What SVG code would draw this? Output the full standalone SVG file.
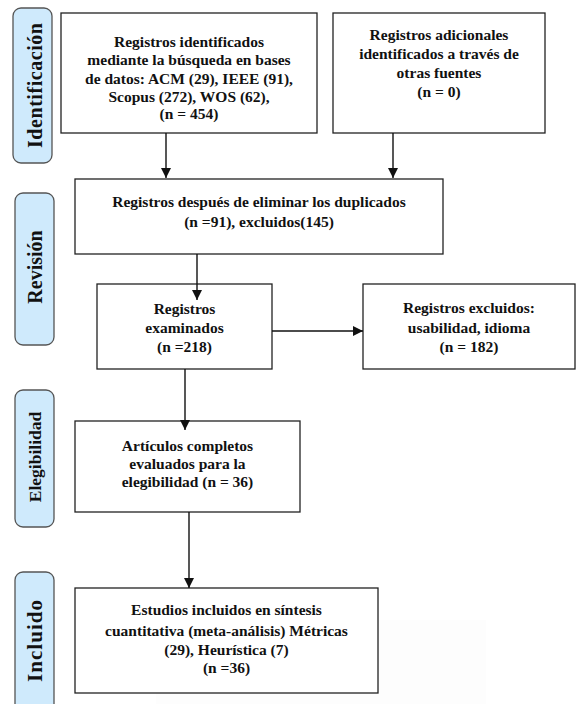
<svg xmlns="http://www.w3.org/2000/svg" width="577" height="704" viewBox="0 0 577 704">
<style>
.box{fill:#fff;stroke:#222;stroke-width:1.3}
.lbl{fill:#cfeafc;stroke:#555;stroke-width:1.3}
.t{font-family:"Liberation Serif","Times New Roman",serif;font-weight:bold;font-size:15.5px;fill:#111;text-anchor:middle}
.s{font-family:"Liberation Serif","Times New Roman",serif;font-weight:bold;font-size:20px;fill:#111;text-anchor:middle}
.c{stroke:#111;stroke-width:1.4;fill:none;marker-end:url(#ah)}
</style>
<defs>
<marker id="ah" markerUnits="userSpaceOnUse" markerWidth="12" markerHeight="12" viewBox="0 0 12 12" refX="10" refY="5" orient="auto">
<path d="M0,0 L10,5 L0,10 Z" fill="#111"/>
</marker>
</defs>
<rect x="156" y="620" width="330" height="84" fill="#fdfdfd"/>
<g id="phase-identificacion">
<rect class="lbl" x="13" y="8" width="39" height="155" rx="8"/>
<text class="s" transform="translate(42,85.5) rotate(-90)" textLength="125" lengthAdjust="spacing">Identificación</text>
</g>
<g id="phase-revision">
<rect class="lbl" x="15" y="193" width="39" height="152" rx="8"/>
<text class="s" transform="translate(42,267) rotate(-90)">Revisión</text>
</g>
<g id="phase-elegibilidad">
<rect class="lbl" x="15" y="390" width="39" height="137" rx="8"/>
<text class="s" style="font-size:17.5px" transform="translate(40.5,457) rotate(-90)">Elegibilidad</text>
</g>
<g id="phase-incluido">
<rect class="lbl" x="15" y="572" width="39" height="142" rx="8"/>
<text class="s" style="font-size:21px" transform="translate(42,641) rotate(-90)" textLength="82" lengthAdjust="spacing">Incluido</text>
</g>
<g id="n-identificados">
<rect class="box" x="61" y="13" width="256" height="120"/>
<text class="t" x="189" y="47">Registros identificados</text>
<text class="t" x="189" y="65">mediante la búsqueda en bases</text>
<text class="t" x="189" y="84">de datos: ACM (29), IEEE (91),</text>
<text class="t" x="189" y="102">Scopus (272), WOS (62),</text>
<text class="t" x="189" y="119">(n = 454)</text>
</g>
<g id="n-adicionales">
<rect class="box" x="333" y="13" width="212" height="120"/>
<text class="t" x="439" y="40">Registros adicionales</text>
<text class="t" x="439" y="59">identificados a través de</text>
<text class="t" x="439" y="78">otras fuentes</text>
<text class="t" x="439" y="97">(n = 0)</text>
</g>
<g id="n-duplicados">
<rect class="box" x="75" y="179" width="368" height="75"/>
<text class="t" x="259" y="207">Registros después de eliminar los duplicados</text>
<text class="t" x="259" y="227">(n =91), excluidos(145)</text>
</g>
<g id="n-examinados">
<rect class="box" x="97" y="284" width="175" height="85"/>
<text class="t" x="184.5" y="314">Registros</text>
<text class="t" x="184.5" y="333">examinados</text>
<text class="t" x="184.5" y="352">(n =218)</text>
</g>
<g id="n-excluidos">
<rect class="box" x="363" y="284" width="212" height="85"/>
<text class="t" x="469" y="313">Registros excluidos:</text>
<text class="t" x="469" y="333">usabilidad, idioma</text>
<text class="t" x="469" y="352">(n = 182)</text>
</g>
<g id="n-elegibilidad">
<rect class="box" x="75" y="421" width="225" height="91"/>
<text class="t" x="187.5" y="451">Artículos completos</text>
<text class="t" x="187.5" y="469">evaluados para la</text>
<text class="t" x="187.5" y="487">elegibilidad (n = 36)</text>
</g>
<g id="n-incluidos">
<rect class="box" x="75" y="588" width="303" height="105"/>
<text class="t" x="226.5" y="615">Estudios incluidos en síntesis</text>
<text class="t" x="226.5" y="636">cuantitativa (meta-análisis) Métricas</text>
<text class="t" x="226.5" y="655">(29), Heurística (7)</text>
<text class="t" x="226.5" y="673">(n =36)</text>
</g>
<g id="connectors">
<line class="c" x1="166" y1="133" x2="166" y2="178"/>
<line class="c" x1="393" y1="133" x2="393" y2="178"/>
<line class="c" x1="197" y1="254" x2="197" y2="300"/>
<line class="c" x1="272" y1="331" x2="363" y2="331"/>
<line class="c" x1="185" y1="369" x2="185" y2="430"/>
<line class="c" x1="189" y1="512" x2="189" y2="588"/>
</g>
</svg>
